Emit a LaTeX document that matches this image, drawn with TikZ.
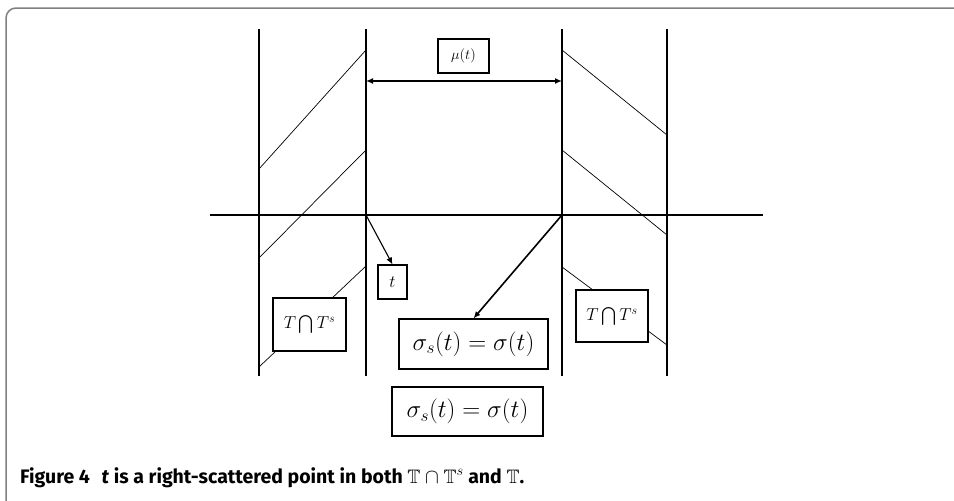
\documentclass[tikz,border=0pt]{standalone}
\usepackage{amssymb}
\usepackage{fontspec}
\usetikzlibrary{arrows.meta,positioning}
\newfontfamily\capfont{Fira Sans}
\definecolor{FrameGray}{HTML}{808080}

\begin{document}
\begin{tikzpicture}[x=1pt,y=-1pt,
  strip/.style={line width=1.2pt},
  hatch/.style={line width=0.7pt},
  mathbox/.style={draw,line width=1.1pt,fill=white,inner sep=1pt},
  tip/.style={-{Latex[length=7pt,width=6pt]},line width=1.1pt}
]
\useasboundingbox (0,0) rectangle (954,501);
\draw[FrameGray,line width=1.5pt,rounded corners=10pt] (6,505) -- (6,8) -- (960,8);

% strips and axis
\foreach \x in {259,366,562,667}
  \draw[strip] (\x,29) -- (\x,376);
\draw[strip] (210,215) -- (763,215);
\coordinate (ol) at (366,215);
\coordinate (or) at (562,215);

% hatching
\draw[hatch] (259,169) -- (366,50);
\draw[hatch] (259,258) -- (366,150);
\draw[hatch] (259,367) -- (366,266);
\draw[hatch] (562,50) -- (667,135);
\draw[hatch] (562,150) -- (667,235);
\draw[hatch] (562,267) -- (667,345);

% labels
\node[mathbox,minimum width=51,minimum height=34,font=\fontsize{14}{16}\selectfont] (mu) at (463.5,56) {$\mu(t)$};
\node[mathbox,minimum width=29,minimum height=34,font=\fontsize{18}{20}\selectfont] (tt) at (392.5,282) {$t$};
\node[mathbox,minimum width=73,minimum height=53,font=\fontsize{18}{20}\selectfont] (capl) at (309.5,324.5) {$T\bigcap T^{s}$};
\node[mathbox,minimum width=72,minimum height=52,font=\fontsize{18}{20}\selectfont] (capr) at (612,316) {$T\bigcap T^{s}$};
\node[mathbox,minimum width=149,minimum height=50,font=\fontsize{25}{27}\selectfont] (sigup) at (473.5,344) {$\sigma_{s}(t)=\sigma(t)$};
\node[mathbox,minimum width=151,minimum height=49,font=\fontsize{25}{27}\selectfont] (siglo) at (467.5,411.5) {$\sigma_{s}(t)=\sigma(t)$};

% arrows
\coordinate (ml) at (366,81);
\coordinate (mr) at (562,81);
\draw[{Latex[length=7pt,width=6pt]}-{Latex[length=7pt,width=6pt]},line width=1.4pt] (ml) -- (mr);
\draw[tip] (ol) -- (tt.north);
\draw[tip,line width=1.6pt] (or) -- (sigup.north);

% caption
\node[anchor=base west,inner sep=0pt,font=\capfont\bfseries\fontsize{19.5}{23}\selectfont] (caption) at (20,483)
  {Figure 4\hspace{0.6em}\textit{t} is a right-scattered point in both $\mathbb{T}\cap\mathbb{T}^{s}$ and $\mathbb{T}$.};
\end{tikzpicture}
\end{document}
